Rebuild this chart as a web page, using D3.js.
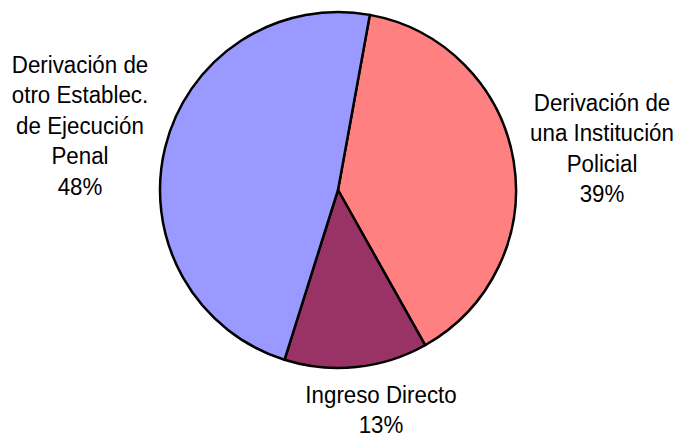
<!DOCTYPE html>
<html>
<head>
<meta charset="utf-8">
<script src="https://cdn.jsdelivr.net/npm/d3@7"></script>
<style>
  body { margin: 0; background: #fff; }
  text { font-family: "Liberation Sans Narrow", "Arial Narrow", "Liberation Sans", Arial, sans-serif; font-size: 23.5px; fill: #000; }
</style>
</head>
<body>
<script>
const WIDTH = 683;
const HEIGHT = 439;

const categories = ["Derivación de una Institución Policial", "Ingreso Directo", "Derivación de otro Establec. de Ejecución Penal"];
const values = [39, 13, 48];
const colors = ["#FF8080", "#993366", "#9999FF"];
const labelLines = [
    ["Derivación de", "una Institución", "Policial", "39%"],
    ["Ingreso Directo", "13%"],
    ["Derivación de", "otro Establec.", "de Ejecución", "Penal", "48%"]
];

function setup(){
    let svg = d3.select("body")
        .append("svg")
        .attr("width",WIDTH)
        .attr("height",HEIGHT);

    let cx = 338, cy = 190, r = 178;
    let startAngle = 10.3 * Math.PI / 180;

    let pie = d3.pie()
        .sort(null)
        .value(d => d)
        .startAngle(startAngle)
        .endAngle(startAngle + 2 * Math.PI);
    let arcs = pie(values);
    let arc = d3.arc().innerRadius(0).outerRadius(r);

    let g = svg.append("g").attr("transform",`translate(${cx},${cy})`);
    g.selectAll(".slice")
        .data(arcs)
        .enter()
        .append("path")
        .attr("class","slice")
        .attr("d",arc)
        .style("fill",(d,i)=>colors[i])
        .style("stroke","black")
        .style("stroke-width",2.5)
        .style("stroke-linejoin","round");

    // label anchor positions (centre of text block, first line baseline)
    let labelPos = [[602, 111], [381, 403], [80, 73]];
    let lineH = 30.5;
    labelLines.forEach((lines,i)=>{
        let t = svg.append("g")
            .attr("transform",`translate(${labelPos[i][0]},${labelPos[i][1]}) scale(0.95,1)`)
            .append("text")
            .attr("text-anchor","middle");
        lines.forEach((ln,j)=>{
            t.append("tspan")
                .attr("x",0)
                .attr("dy",j===0?0:lineH)
                .text(ln);
        });
    });
}

window.addEventListener("load",setup);
</script>
</body>
</html>
